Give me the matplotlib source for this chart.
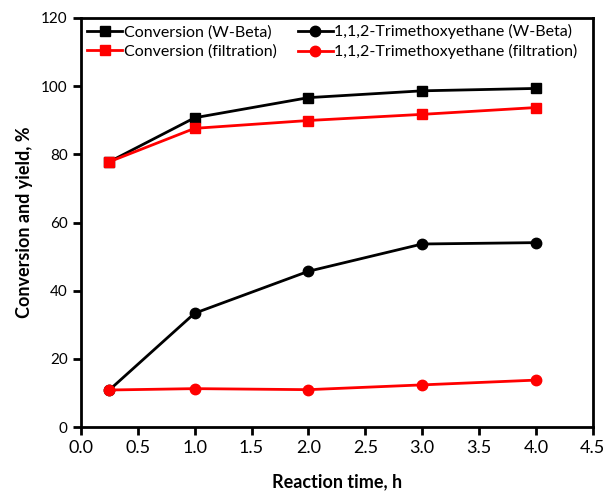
import matplotlib
matplotlib.use("Agg")
import matplotlib.pyplot as plt

# 反應時間 (h)
time_h = [0.25, 1.0, 2.0, 3.0, 4.0]

# 轉化率與產率 (%)
conv_wbeta = [77.8, 90.7, 96.6, 98.6, 99.3]
conv_filt = [77.8, 87.6, 89.9, 91.7, 93.7]
yield_wbeta = [10.9, 33.4, 45.7, 53.7, 54.1]
yield_filt = [10.9, 11.3, 11.0, 12.4, 13.8]

plt.rcParams["font.family"] = ["Lato", "DejaVu Sans"]

fig = plt.figure(figsize=(6.08, 4.95), dpi=100)
ax = fig.add_axes([0.133, 0.137, 0.842, 0.827])

# 圖例逐列排列, 所以按欄順序畫
ax.plot(time_h, conv_wbeta, color="black", marker="s", markersize=7, lw=2,
        label="Conversion (W-Beta)")
ax.plot(time_h, conv_filt, color="red", marker="s", markersize=7, lw=2,
        label="Conversion (filtration)")
ax.plot(time_h, yield_wbeta, color="black", marker="o", markersize=7.5, lw=2,
        label="1,1,2-Trimethoxyethane (W-Beta)")
ax.plot(time_h, yield_filt, color="red", marker="o", markersize=7.5, lw=2,
        label="1,1,2-Trimethoxyethane (filtration)")

ax.set_xlim(0, 4.5)
ax.set_ylim(0, 120)
ax.set_xticks([0, 0.5, 1.0, 1.5, 2.0, 2.5, 3.0, 3.5, 4.0, 4.5])
ax.set_xticklabels(["0.0", "0.5", "1.0", "1.5", "2.0", "2.5", "3.0", "3.5", "4.0", "4.5"])
ax.set_yticks([0, 20, 40, 60, 80, 100, 120])

for s in ax.spines.values():
    s.set_linewidth(2)
ax.tick_params(axis="both", direction="out", width=2, length=6)
ax.tick_params(axis="x", labelsize=13)
ax.tick_params(axis="y", labelsize=11)

ax.set_xlabel("Reaction time, h", fontsize=13, fontweight="bold", labelpad=12)
ax.set_ylabel("Conversion and yield, %", fontsize=13, fontweight="bold", labelpad=6)

ax.legend(loc="upper left", ncol=2, frameon=False, fontsize=11.5,
          handlelength=2.2, handletextpad=0.1, columnspacing=1.3,
          borderaxespad=0.0, labelspacing=0.3, bbox_to_anchor=(0.0, 1.0))

fig.savefig("out.png", dpi=100)
